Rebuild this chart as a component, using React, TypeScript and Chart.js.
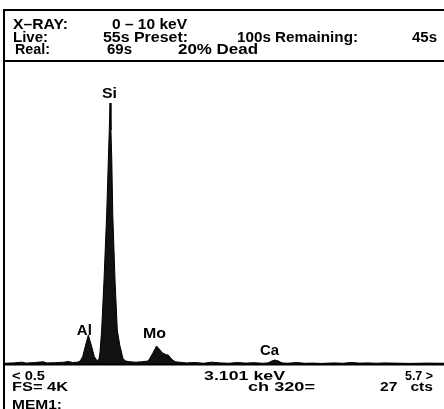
import React, { useEffect, useRef } from "react";
import { Chart, registerables } from "chart.js";

Chart.register(...registerables);

// Spectrum (energy in keV, counts per channel)
const energyKeV = [
  0.5, 0.6, 0.7, 0.75, 0.85, 0.95, 1.0, 1.1, 1.2, 1.25, 1.3, 1.36, 1.39, 1.42, 1.45, 1.487, 1.527, 1.558,
  1.585, 1.601, 1.613, 1.625, 1.645, 1.673, 1.705, 1.724, 1.735, 1.744, 1.755, 1.765, 1.776, 1.803, 1.83,
  1.86, 1.882, 1.898, 1.93, 1.98, 2.05, 2.12, 2.197, 2.25, 2.295, 2.337, 2.365, 2.41, 2.434, 2.47, 2.514,
  2.56, 2.65, 2.75, 2.85, 2.95, 3.05, 3.15, 3.25, 3.35, 3.45, 3.55, 3.615, 3.66, 3.698, 3.74, 3.781, 3.85,
  3.95, 4.05, 4.15, 4.25, 4.4, 4.5, 4.6, 4.7, 4.8, 4.9, 5.0, 5.1, 5.2, 5.3, 5.5, 5.7,
];
const counts = [
  10, 15, 25, 12, 20, 30, 15, 18, 25, 35, 20, 25, 40, 99, 235, 393, 235, 99,
  55, 45, 70, 149, 461, 1139, 2048, 2766, 3173, 3539, 3173, 2766, 2048, 1139, 461,
  250, 149, 70, 40, 30, 25, 30, 41, 145, 244, 190, 150, 125, 122, 70, 31,
  25, 15, 20, 10, 25, 15, 10, 20, 12, 18, 10, 15, 40, 54, 40, 15, 10,
  20, 10, 12, 8, 15, 10, 20, 12, 15, 10, 15, 12, 10, 8, 12, 10,
];

const peakNames = ["Al", "Si", "Mo", "Ca"];
const peakEnergies = [1.487, 1.744, 2.295, 3.698];

const energyMin = 0.5;
const energyMax = 5.7;
const fullScale = 4096;

// Header / footer texts
const headerTexts = ["X–RAY:", "0 – 10 keV", "Live:", "55s Preset:", "100s Remaining:", "45s", "Real:", "69s", "20% Dead"];
const footerTexts = ["< 0.5", "3.101 keV", "5.7 >", "FS= 4K", "ch 320=", "27   cts", "MEM1:"];

// layout for texts: [x, baseline y, width]
const headerLayout: number[][] = [
  [13, 28.5, 55], [112, 28.5, 75],
  [13, 42, 35], [103, 42, 85], [237, 42, 121], [412, 42, 25],
  [15, 53.5, 35], [107, 53.5, 25], [178, 53.5, 80],
];
const footerLayout: number[][] = [
  [12, 379.5, 33], [204, 379.5, 81], [405, 379.5, 28],
  [12, 390.5, 56], [248, 390.5, 67], [380, 390.5, 53],
  [12, 408.5, 50],
];
// label offsets: [dx, gap above peak, width]
const labelLayout: number[][] = [
  [-4, 0, 15], [-0.5, 5, 15], [-2, 8, 23], [-5.5, 5, 19],
];

const FONT = '"Liberation Sans", Arial, Helvetica, sans-serif';

function drawFit(ctx: CanvasRenderingContext2D, text: string, x: number, y: number, w: number, size: number) {
  ctx.font = `bold ${size}px ${FONT}`;
  const m = ctx.measureText(text).width;
  ctx.save();
  ctx.translate(x, y);
  ctx.scale(w / m, 1);
  ctx.textBaseline = "alphabetic";
  ctx.textAlign = "left";
  ctx.fillText(text, 0, 0);
  ctx.restore();
}

const framePlugin = {
  id: "eds-frame",
  beforeDraw(chart: any) {
    const ctx = chart.ctx as CanvasRenderingContext2D;
    ctx.save();
    ctx.fillStyle = "#ffffff";
    ctx.fillRect(0, 0, chart.width, chart.height);
    ctx.restore();
  },
  afterDraw(chart: any) {
    const ctx = chart.ctx as CanvasRenderingContext2D;
    const W = chart.width;
    const H = chart.height;
    const area = chart.chartArea;
    ctx.save();
    ctx.strokeStyle = "#000";
    ctx.lineWidth = 2;
    ctx.beginPath();
    ctx.moveTo(3, 10);
    ctx.lineTo(W, 10);
    ctx.moveTo(4, 9);
    ctx.lineTo(4, H);
    ctx.moveTo(3, area.top - 1);
    ctx.lineTo(W, area.top - 1);
    ctx.moveTo(3, area.bottom + 0.5);
    ctx.lineTo(W, area.bottom + 0.5);
    ctx.stroke();

    ctx.fillStyle = "#000";
    headerTexts.forEach((t, i) => {
      const [x, y, w] = headerLayout[i];
      drawFit(ctx, t, x, y, w, 14);
    });
    footerTexts.forEach((t, i) => {
      const [x, y, w] = footerLayout[i];
      drawFit(ctx, t, x, y, w, 13.5);
    });

    const xs = chart.scales.x;
    const ys = chart.scales.y;
    peakNames.forEach((name, i) => {
      const e = peakEnergies[i];
      let peak = 0;
      energyKeV.forEach((en, j) => {
        if (Math.abs(en - e) < 0.06 && counts[j] > peak) peak = counts[j];
      });
      const [dx, gap, w] = labelLayout[i];
      const cx = xs.getPixelForValue(e) + dx;
      const by = ys.getPixelForValue(peak) - gap;
      drawFit(ctx, name, cx - w / 2, by, w, 14);
    });
    ctx.restore();
  },
};

export default function App() {
  const ref = useRef<HTMLCanvasElement | null>(null);
  useEffect(() => {
    if (!ref.current) return;
    const chart = new Chart(ref.current, {
      type: "line",
      data: {
        datasets: [
          {
            data: energyKeV.map((e, i) => ({ x: e, y: counts[i] })),
            borderColor: "#000",
            borderWidth: 1,
            backgroundColor: "#111",
            fill: "origin",
            pointRadius: 0,
            tension: 0,
          },
        ],
      },
      options: {
        animation: false,
        responsive: false,
        devicePixelRatio: 1,
        layout: { padding: { left: 5, top: 62, right: 0, bottom: 45 } },
        plugins: { legend: { display: false }, tooltip: { enabled: false }, title: { display: false } },
        scales: {
          x: { type: "linear", min: energyMin, max: energyMax, display: false },
          y: { type: "linear", min: 0, max: fullScale, display: false },
        },
        events: [],
      },
      plugins: [framePlugin],
    });
    return () => chart.destroy();
  }, []);
  return (
    <canvas
      ref={ref}
      width={444}
      height={409}
      style={{ position: "absolute", left: 0, top: 0, width: 444, height: 409, display: "block" }}
    />
  );
}
